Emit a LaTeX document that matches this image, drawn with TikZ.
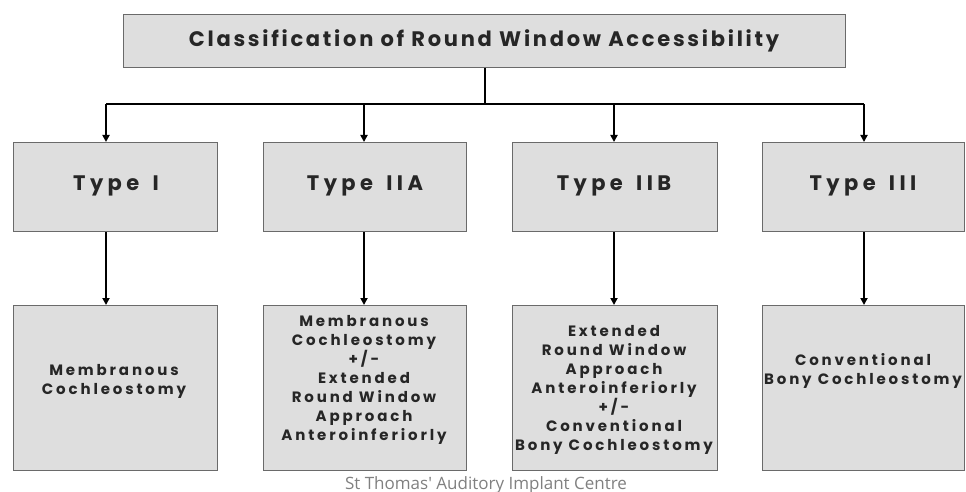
\documentclass[tikz,border=0pt]{standalone}
\usepackage{fontspec}
\setmainfont{Poppins}
\newfontfamily\titlefont{Poppins}[LetterSpace=13]
\newfontfamily\typefont{Poppins}[LetterSpace=21, WordSpace=1.5]
\newfontfamily\bodyfont{Poppins}[LetterSpace=19]
\newfontfamily\footfont{Open Sans}
\usetikzlibrary{arrows.meta}
\definecolor{boxfill}{HTML}{DEDEDE}
\definecolor{boxline}{HTML}{6A6A6A}
\definecolor{footgray}{HTML}{808080}
\definecolor{inkc}{HTML}{262626}
\tikzset{
  box/.style={draw=boxline, line width=1pt, fill=boxfill, inner sep=0pt, anchor=north west},
  conn/.style={line width=2pt, black},
  arr/.style={conn, -{Triangle[length=7pt,width=7pt]}},
  titletext/.style={font=\titlefont\bfseries\fontsize{21}{25}\selectfont, text=inkc, inner sep=0pt},
  typetext/.style={font=\typefont\bfseries\fontsize{21}{25}\selectfont, text=inkc, inner sep=0pt},
  bodytext/.style={font=\bodyfont\bfseries\fontsize{15}{19}\selectfont, text=inkc, align=center, inner sep=0pt},
  foottext/.style={font=\footfont\fontsize{17}{20}\selectfont, text=footgray, inner sep=0pt, anchor=base},
}
\begin{document}
\begin{tikzpicture}[x=1pt,y=-1pt]
\useasboundingbox (0,0) rectangle (966,492);
% title
\node[box, minimum width=722pt, minimum height=53pt] (title) at (123,14) {};
\node[titletext] (titlet) at (484,41) {Classification of Round Window Accessibility};
% type boxes
\node[box, minimum width=204pt, minimum height=89pt] (t1) at (13,142) {};
\node[box, minimum width=203pt, minimum height=89pt] (t2) at (263,142) {};
\node[box, minimum width=205pt, minimum height=89pt] (t3) at (512,142) {};
\node[box, minimum width=202pt, minimum height=89pt] (t4) at (762,142) {};
\node[typetext] (t1t) at (116,186) {Type I};
\node[typetext] (t2t) at (365,186) {Type IIA};
\node[typetext] (t3t) at (614,186) {Type IIB};
\node[typetext] (t4t) at (863,186) {Type III};
% bottom boxes
\node[box, minimum width=204pt, minimum height=165pt] (b1) at (13,305) {};
\node[box, minimum width=203pt, minimum height=165pt] (b2) at (263,305) {};
\node[box, minimum width=205pt, minimum height=165pt] (b3) at (512,305) {};
\node[box, minimum width=202pt, minimum height=165pt] (b4) at (762,305) {};
\node[bodytext] (b1t) at (114,381) {Membranous\\Cochleostomy};
\node[bodytext] (b2t) at (364,380) {Membranous\\Cochleostomy\\+/-\\Extended\\Round Window\\Approach\\Anteroinferiorly};
\node[bodytext] (b3t) at (614,390) {Extended\\Round Window\\Approach\\Anteroinferiorly\\+/-\\Conventional\\Bony Cochleostomy};
\node[bodytext] (b4t) at (863,371) {Conventional\\Bony Cochleostomy};
% connectors
\coordinate (bar) at (485,104);
\coordinate (d1) at (106,104);
\coordinate (d2) at (364,104);
\coordinate (d3) at (614,104);
\coordinate (d4) at (864,104);
\draw[conn] (title.south -| bar) -- (bar);
\draw[conn] (d1) -- (d4);
\draw[arr] (d1) -- (d1 |- t1.north);
\draw[arr] (d2) -- (d2 |- t2.north);
\draw[arr] (d3) -- (d3 |- t3.north);
\draw[arr] (d4) -- (d4 |- t4.north);
\draw[arr] (d1 |- t1.south) -- (d1 |- b1.north);
\draw[arr] (d2 |- t2.south) -- (d2 |- b2.north);
\draw[arr] (d3 |- t3.south) -- (d3 |- b3.north);
\draw[arr] (d4 |- t4.south) -- (d4 |- b4.north);
% footer
\node[foottext] (foot) at (486,489.5) {St Thomas' Auditory Implant Centre};
\end{tikzpicture}
\end{document}
